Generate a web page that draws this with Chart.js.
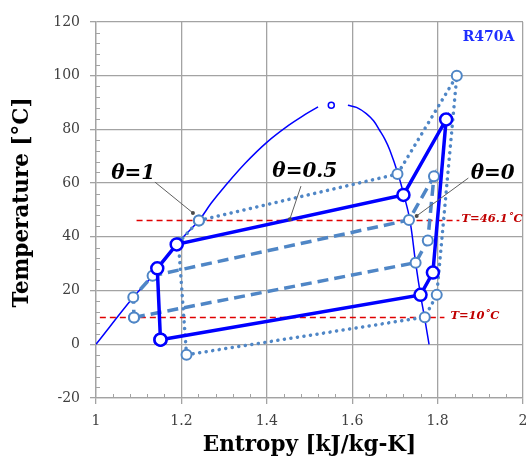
<!DOCTYPE html>
<html>
<head>
<meta charset="utf-8">
<script src="https://cdn.jsdelivr.net/npm/chart.js@4.4.1/dist/chart.umd.min.js"></script>
<style>
  html, body { margin: 0; padding: 0; background: #fff; }
  #wrap { width: 526px; height: 459px; }
</style>
</head>
<body>
<div id="wrap"><canvas id="myChart"></canvas></div>
<script>
// saturation dome of R470A
var liqS = [1.0, 1.0873, 1.1325, 1.19, 1.241, 1.27, 1.30, 1.35, 1.40, 1.45, 1.49, 1.52];
var liqT = [0, 17.5, 25.5, 37.5, 46.1, 52.6, 58.5, 67.5, 75.2, 81.4, 85.6, 88.4];
var vapS = [1.59, 1.61, 1.633, 1.65, 1.664, 1.677, 1.688, 1.707, 1.721, 1.735, 1.7485, 1.76, 1.7697, 1.78];
var vapT = [89, 88.2, 85.9, 83.2, 79.7, 76.2, 72.3, 63.6, 55.6, 46.3, 30.4, 18.4, 9.7, 0];
var critS = [1.551];
var critT = [89];

// cycle theta = 0.5 (solid)
var halfS = [1.151, 1.76, 1.789, 1.82, 1.72, 1.189, 1.1435, 1.151];
var halfT = [1.7, 18.4, 26.7, 83.7, 55.6, 37.2, 28.3, 1.7];
// cycle theta = 1 (dotted)
var oneS = [1.241, 1.706, 1.845, 1.798, 1.77, 1.212, 1.193, 1.241];
var oneT = [46.1, 63.4, 100, 18.4, 10.1, -3.9, 37.8, 46.1];
// cycle theta = 0 (dashed)
var zeroS = [1.089, 1.7485, 1.777, 1.7915, 1.733, 1.1325, 1.0873, 1.089];
var zeroT = [10, 30.4, 38.6, 62.6, 46.3, 25.5, 17.5, 10];

// reference temperatures
var tCond = 46.1, tCondS = [1.095, 1.851];
var tEvap = 10, tEvapS = [1.009, 1.816];

// axis ticks
var xTicks = [1, 1.2, 1.4, 1.6, 1.8, 2];
var yTicks = [-20, 0, 20, 40, 60, 80, 100, 120];

function pts(s, t) {
    return s.map(function (v, i) { return { x: v, y: t[i] }; });
}

var BLUE = '#0000ff';
var LIGHT = '#4f86c6';
var RED = '#e00000';
var GRID = '#a3a3a3';

// don't let the point circles grow the layout, the plot runs to the right edge
Chart.ScatterController.prototype.getMaxOverflow = function () { return 0; };

var notes = {
    id: 'notes',
    afterDraw: function (chart) {
        var c = chart.ctx, xs = chart.scales.x, ys = chart.scales.y;
        var a = chart.chartArea;
        c.save();
        // minor ticks pointing inward
        c.strokeStyle = GRID;
        c.lineWidth = 1;
        c.beginPath();
        for (var i = 1; i < 25; i++) {
            if (i % 5 === 0) continue;
            var px = Math.round(xs.getPixelForValue(1 + i * 0.04)) + 0.5;
            c.moveTo(px, a.bottom); c.lineTo(px, a.bottom - 4);
        }
        for (var j = 1; j < 35; j++) {
            if (j % 5 === 0) continue;
            var py = Math.round(ys.getPixelForValue(-20 + j * 4)) + 0.5;
            c.moveTo(a.left, py); c.lineTo(a.left + 4, py);
        }
        c.stroke();

        // leader lines for the theta labels
        var leaders = [
            [1.138, 60.4, 1.227, 48.9],
            [1.48, 58.9, 1.454, 46.6],
            [1.872, 61.9, 1.751, 47.8]
        ];
        c.strokeStyle = '#5f5f5f';
        c.fillStyle = '#4a4a4a';
        c.lineWidth = 1;
        leaders.forEach(function (l) {
            var x1 = xs.getPixelForValue(l[0]), y1 = ys.getPixelForValue(l[1]);
            var x2 = xs.getPixelForValue(l[2]), y2 = ys.getPixelForValue(l[3]);
            c.beginPath(); c.moveTo(x1, y1); c.lineTo(x2, y2); c.stroke();
            c.beginPath(); c.arc(x2, y2, 2, 0, Math.PI * 2); c.fill();
        });

        function txt(s, xv, yv, font, color, align) {
            c.font = font;
            c.fillStyle = color;
            c.textAlign = align || 'center';
            c.textBaseline = 'middle';
            c.fillText(s, xs.getPixelForValue(xv), ys.getPixelForValue(yv));
        }
        var thFont = 'italic bold 20px "DejaVu Serif"';
        txt('\u03b8=1', 1.087, 63.4, thFont, '#000');
        txt('\u03b8=0.5', 1.489, 64.1, thFont, '#000');
        txt('\u03b8=0', 1.929, 63.4, thFont, '#000');
        txt('R470A', 1.98, 114.1, 'bold 14px "DejaVu Serif"', '#1f2fff', 'right');
        txt('T=46.1\u02daC', 1.856, 46.6, 'italic bold 11.5px "DejaVu Serif"', '#c00000', 'left');
        txt('T=10\u02daC', 1.830, 10.4, 'italic bold 11.5px "DejaVu Serif"', '#c00000', 'left');
        c.restore();
    }
};

document.addEventListener('DOMContentLoaded', function () {
    var ctx = document.getElementById('myChart').getContext('2d');
    var myChart = new Chart(ctx, {
        type: 'scatter',
        data: {
            datasets: [{
                label: 'theta=0.5',
                data: pts(halfS, halfT),
                showLine: true,
                borderColor: BLUE,
                borderWidth: 3.5,
                pointRadius: 6,
                pointBorderWidth: 2.5,
                pointBackgroundColor: '#fff',
                pointBorderColor: BLUE
            }, {
                label: 'theta=0',
                data: pts(zeroS, zeroT),
                showLine: true,
                borderColor: LIGHT,
                borderWidth: 3.5,
                borderDash: [11, 6],
                pointRadius: 5,
                pointBorderWidth: 2,
                pointBackgroundColor: '#fff',
                pointBorderColor: LIGHT
            }, {
                label: 'theta=1',
                data: pts(oneS, oneT),
                showLine: true,
                borderColor: LIGHT,
                borderWidth: 3.5,
                borderDash: [0.1, 6.5],
                borderCapStyle: 'round',
                pointRadius: 5,
                pointBorderWidth: 2,
                pointBackgroundColor: '#fff',
                pointBorderColor: LIGHT
            }, {
                label: 'T cond',
                data: pts(tCondS, [tCond, tCond]),
                showLine: true,
                borderColor: RED,
                borderWidth: 1.6,
                borderDash: [6, 4],
                pointRadius: 0
            }, {
                label: 'T evap',
                data: pts(tEvapS, [tEvap, tEvap]),
                showLine: true,
                borderColor: RED,
                borderWidth: 1.6,
                borderDash: [6, 4],
                pointRadius: 0
            }, {
                label: 'critical',
                data: pts(critS, critT),
                pointRadius: 3,
                pointBorderWidth: 1.5,
                pointBackgroundColor: '#fff',
                pointBorderColor: BLUE
            }, {
                label: 'liquid',
                data: pts(liqS, liqT),
                showLine: true,
                borderColor: BLUE,
                borderWidth: 1.5,
                tension: 0.4,
                pointRadius: 0
            }, {
                label: 'vapour',
                data: pts(vapS, vapT),
                showLine: true,
                borderColor: BLUE,
                borderWidth: 1.5,
                tension: 0.4,
                pointRadius: 0
            }]
        },
        options: {
            responsive: true,
            maintainAspectRatio: false,
            animation: false,
            layout: { padding: { top: 22, right: 3, bottom: 0, left: 0 } },
            plugins: {
                legend: { display: false },
                tooltip: { enabled: false }
            },
            scales: {
                x: {
                    type: 'linear',
                    min: 1, max: 2,
                    afterBuildTicks: function (s) { s.ticks = xTicks.map(function (v) { return { value: v }; }); },
                    afterFit: function (s) { s.height = 61; s.paddingLeft = 0; s.paddingRight = 0; },
                    grid: { color: GRID, lineWidth: 1.3, tickLength: 6, tickColor: GRID },
                    border: { color: GRID, width: 1.3 },
                    ticks: {
                        padding: 9,
                        color: '#404040',
                        font: { family: 'DejaVu Serif', size: 14 },
                        callback: function (v) { return String(Math.round(v * 10) / 10); }
                    },
                    title: {
                        display: true,
                        text: 'Entropy [kJ/kg-K]',
                        color: '#000',
                        font: { family: 'DejaVu Serif', size: 21.5, weight: 'bold' },
                        padding: { top: 0, bottom: 1 }
                    }
                },
                y: {
                    type: 'linear',
                    min: -20, max: 120,
                    afterBuildTicks: function (s) { s.ticks = yTicks.map(function (v) { return { value: v }; }); },
                    afterFit: function (s) { s.width = 96; s.paddingTop = 0; s.paddingBottom = 0; },
                    grid: { color: GRID, lineWidth: 1.3, tickLength: 6, tickColor: GRID },
                    border: { color: GRID, width: 1.3 },
                    ticks: {
                        padding: 10,
                        color: '#404040',
                        font: { family: 'DejaVu Serif', size: 14 }
                    },
                    title: {
                        display: true,
                        text: '  Temperature [\u00b0C]',
                        color: '#000',
                        font: { family: 'DejaVu Serif', size: 21.5, weight: 'bold' },
                        padding: { top: 10, bottom: 0 }
                    }
                }
            }
        },
        plugins: [notes]
    });
});
</script>
</body>
</html>
